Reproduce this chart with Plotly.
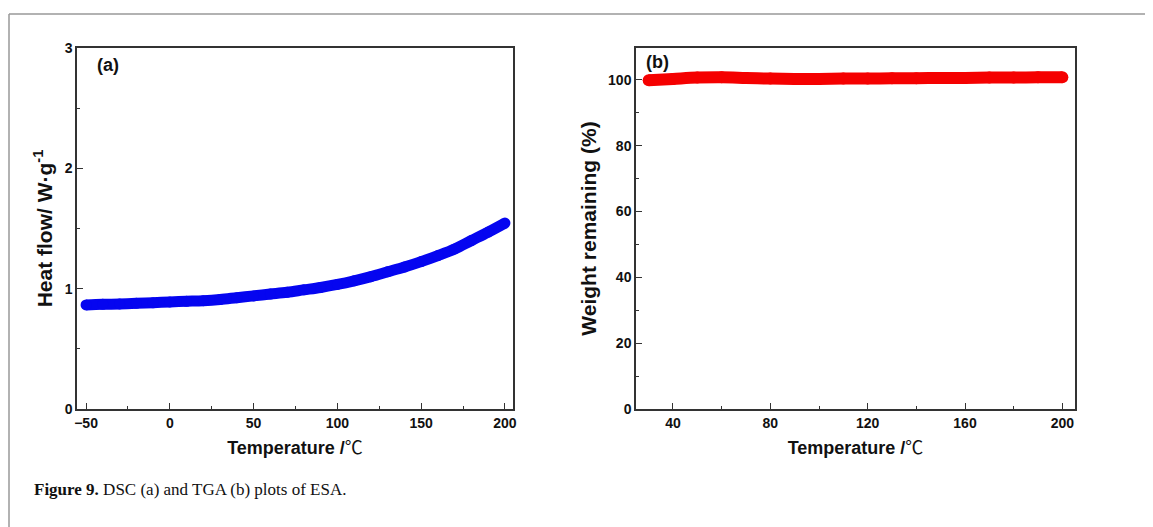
import plotly.graph_objects as go

# DSC data (a)
dsc_temp = [-50, -40, -30, -20, -10, 0, 10, 20, 30, 40, 50, 60, 70, 80, 90,
            100, 110, 120, 130, 140, 150, 160, 170, 180, 190, 200]
dsc_heat = [0.865, 0.870, 0.873, 0.878, 0.883, 0.890, 0.895, 0.900, 0.910, 0.925,
            0.940, 0.955, 0.970, 0.990, 1.010, 1.035, 1.065, 1.100, 1.140, 1.180,
            1.225, 1.275, 1.330, 1.400, 1.470, 1.545]

# TGA data (b)
tga_temp = [30, 40, 50, 60, 70, 80, 90, 100, 110, 120, 130, 140, 150, 160, 170, 180, 190, 200]
tga_weight = [99.9, 100.3, 100.7, 100.8, 100.6, 100.4, 100.3, 100.3, 100.4, 100.4,
              100.5, 100.5, 100.6, 100.6, 100.7, 100.7, 100.8, 100.8]

# page body has an 8px margin; figure fills the rest of the 1153x527 window
OFF = 8
W, H = 1153 - OFF, 527 - OFF


def px(x):
    return (x - OFF) / W


def py(y):
    return 1 - (y - OFF) / H


BOLD = dict(family="Liberation Sans, Arial, sans-serif", weight="bold", color="#111")
TEMP_TITLE = ("Temperature /<span style='font-family:\"Noto Sans CJK SC\";"
              "font-weight:normal'>℃</span>")

fig = go.Figure()
fig.add_trace(go.Scatter(x=dsc_temp, y=dsc_heat, mode="lines+markers",
                         line=dict(color="#0505F0", width=11, shape="spline"),
                         marker=dict(color="#0505F0", size=11),
                         xaxis="x", yaxis="y", showlegend=False))
fig.add_trace(go.Scatter(x=tga_temp, y=tga_weight, mode="lines+markers",
                         line=dict(color="#F50000", width=12, shape="spline"),
                         marker=dict(color="#F50000", size=12),
                         xaxis="x2", yaxis="y2", showlegend=False))

axis_common = dict(showline=True, linecolor="#333", linewidth=1.5, mirror=True,
                   ticks="inside", ticklen=6, tickwidth=1.3, tickcolor="#333",
                   showgrid=False, zeroline=False, automargin=False,
                   tickfont=dict(size=14, **BOLD))
minor_common = dict(ticks="inside", ticklen=3, tickwidth=1.2, tickcolor="#333", showgrid=False)

fig.update_layout(
    width=W, height=H,
    margin=dict(l=0, r=0, t=0, b=0, pad=0),
    paper_bgcolor="white", plot_bgcolor="white",
    xaxis=dict(domain=[px(77), px(513)], range=[-55.4, 204.8], tickvals=[-50, 0, 50, 100, 150, 200],
               minor=dict(tickvals=[-25, 25, 75, 125, 175], **minor_common),
               title=dict(text=TEMP_TITLE, font=dict(size=18, **BOLD), standoff=12),
               anchor="y", **axis_common),
    yaxis=dict(domain=[py(409), py(48)], range=[0, 3], tickvals=[0, 1, 2, 3],
               minor=dict(tickvals=[0.5, 1.5, 2.5], **minor_common),
               title=dict(text="Heat flow/ W·g<sup>-1</sup>", font=dict(size=21, **BOLD), standoff=6),
               anchor="x", **axis_common),
    xaxis2=dict(domain=[px(636), px(1075)], range=[24.8, 205.2], tickvals=[40, 80, 120, 160, 200],
                minor=dict(tickvals=[60, 100, 140, 180], **minor_common),
                title=dict(text=TEMP_TITLE, font=dict(size=18, **BOLD), standoff=12),
                anchor="y2", **axis_common),
    yaxis2=dict(domain=[py(409), py(48)], range=[0, 109.7], tickvals=[0, 20, 40, 60, 80, 100],
                minor=dict(tickvals=[10, 30, 50, 70, 90], **minor_common),
                title=dict(text="Weight remaining (%)", font=dict(size=21, **BOLD), standoff=6),
                anchor="x2", **axis_common),
)

fig.add_annotation(text="(a)", xref="x domain", yref="y domain", x=0.041, y=0.985,
                   xanchor="left", yanchor="top", showarrow=False,
                   font=dict(size=18, **BOLD))
fig.add_annotation(text="(b)", xref="x2 domain", yref="y2 domain", x=0.018, y=0.995,
                   xanchor="left", yanchor="top", showarrow=False,
                   font=dict(size=18, **BOLD))

fig.add_annotation(text="<b>Figure 9.</b> DSC (a) and TGA (b) plots of ESA.",
                   xref="paper", yref="paper", x=px(32), y=py(489),
                   xanchor="left", yanchor="middle", showarrow=False,
                   font=dict(size=17, family="Liberation Serif, Times New Roman, serif", color="#111"))

# outer frame lines
fig.add_shape(type="line", xref="paper", yref="paper", x0=px(9), x1=1, y0=py(14), y1=py(14),
              line=dict(color="#999", width=1.5))
fig.add_shape(type="line", xref="paper", yref="paper", x0=px(9), x1=px(9), y0=0, y1=py(14),
              line=dict(color="#999", width=1.5))

fig.write_html("out.html")
